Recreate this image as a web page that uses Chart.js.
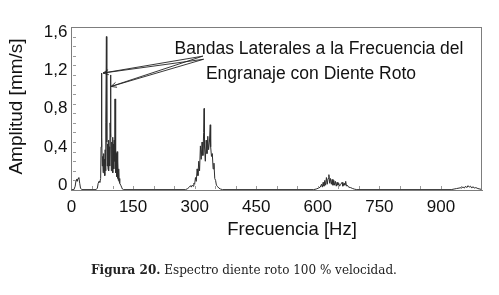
<!DOCTYPE html>
<html>
<head>
<meta charset="utf-8">
<script src="https://cdn.jsdelivr.net/npm/chart.js@4.4.1/dist/chart.umd.min.js"></script>
<style>
  html, body { margin: 0; padding: 0; background: #fff; }
  #wrap { position: relative; width: 499px; height: 295px; }
  #chart { position: absolute; left: 0; top: 0; }
  #caption {
    position: absolute; left: 0; top: 263px; width: 488px;
    text-align: center; font: 12px "DejaVu Serif", serif; color: #222;
  }
</style>
</head>
<body>
<div id="wrap">
  <canvas id="chart" width="499" height="295"></canvas>
  <div id="caption"><b>Figura 20.</b> Espectro diente roto 100 % velocidad.</div>
</div>
<script>
// frecuencia [Hz] y amplitud [mm/s]
const freqHz = [
  0, 6, 9, 11, 13, 14, 16, 18, 20, 22, 25,
  60, 63, 65, 67, 69, 71, 72, 73, 74, 75, 76, 77, 78, 79, 80, 81, 82, 83, 84, 85,
  86, 87, 88, 89, 90, 91, 92, 93, 94, 95, 96, 97, 98, 99, 100, 101, 102, 103, 104,
  105, 106, 107, 108, 109, 110, 111, 112, 113, 114, 115, 116, 117, 118, 120, 122, 124, 127,
  278, 283, 287, 290, 292, 294, 296, 298, 300, 302, 304, 306, 308, 310, 312, 314, 316,
  318, 320, 322, 323, 324, 326, 328, 330, 332, 334, 336, 338, 339, 341, 343, 345, 347,
  349, 351, 353, 356, 359, 363, 368,
  590, 596, 602, 606, 609, 611, 613, 615, 617, 619, 621, 623, 625, 627, 629, 631, 633,
  635, 637, 639, 641, 643, 645, 647, 649, 651, 653, 656, 659, 661, 664, 666, 668, 670,
  672, 675, 680, 685, 690, 695,
  925, 932, 938, 944, 950, 954, 957, 960, 963, 966, 969, 972, 975, 978, 981, 985, 990, 995, 1000
];
const amplitud = [
  0.004, 0.004, 0.04, 0.1, 0.115, 0.09, 0.12, 0.13, 0.07, 0.02, 0.004,
  0.004, 0.02, 0.07, 0.09, 0.08, 0.12, 0.45, 1.22, 0.55, 0.25, 0.35, 0.18, 0.38, 0.2, 0.32, 0.15, 0.42, 0.2, 0.7, 1.6,
  0.5, 0.25, 0.48, 0.22, 0.52, 0.2, 0.45, 0.25, 0.7, 1.2, 0.55, 0.2, 0.5, 0.25, 0.55, 0.18, 0.48, 0.22, 0.52,
  0.3, 0.95, 0.45, 0.18, 0.38, 0.14, 0.4, 0.12, 0.3, 0.1, 0.22, 0.09, 0.12, 0.07, 0.05, 0.03, 0.01, 0.004,
  0.004, 0.015, 0.03, 0.045, 0.03, 0.05, 0.04, 0.07, 0.06, 0.13, 0.09, 0.22, 0.15, 0.3, 0.2, 0.46, 0.32,
  0.5, 0.36, 0.6, 0.85, 0.45, 0.3, 0.52, 0.38, 0.56, 0.42, 0.5, 0.68, 0.45, 0.35, 0.38, 0.22, 0.28,
  0.12, 0.1, 0.05, 0.035, 0.02, 0.01, 0.004,
  0.004, 0.01, 0.02, 0.03, 0.06, 0.03, 0.08, 0.04, 0.1, 0.05, 0.13, 0.06, 0.12, 0.16, 0.07, 0.12, 0.06,
  0.11, 0.05, 0.1, 0.05, 0.09, 0.04, 0.08, 0.05, 0.07, 0.04, 0.06, 0.08, 0.04, 0.07, 0.05, 0.09, 0.04,
  0.05, 0.03, 0.025, 0.015, 0.008, 0.004,
  0.004, 0.01, 0.015, 0.02, 0.025, 0.03, 0.02, 0.04, 0.025, 0.045, 0.03, 0.04, 0.02, 0.035, 0.02, 0.025, 0.015, 0.01, 0.004
];
const xTicks = [0, 150, 300, 450, 600, 750, 900];
const yTicks = [0, 0.4, 0.8, 1.2, 1.6];

// flechas de la anotacion: punta en [Hz, mm/s]
const arrowTail = [321, 1.38];
const arrowTips = [[77, 1.22], [96.5, 1.08]];
const noteLines = ["Bandas Laterales a la Frecuencia del", "Engranaje con Diente Roto"];

const FONT = "'Liberation Sans', Arial, sans-serif";
const FRAME = "#7d7d7d";

const decorate = {
  id: "decorate",
  afterDraw(chart) {
    const { ctx, scales: { x, y } } = chart;
    const L = Math.round(x.left), R = Math.round(x.right);
    const T = Math.round(y.top), B = Math.round(y.bottom);
    ctx.save();
    // lados superior y derecho del marco
    ctx.fillStyle = FRAME;
    ctx.fillRect(L, T, R - L, 1);
    ctx.fillRect(R - 1, T, 1, B - T);
    // marcas menores
    ctx.fillStyle = "#9a9a9a";
    for (let v = 0.1; v <= 1.7; v += 0.1) {
      ctx.fillRect(L + 1, Math.round(y.getPixelForValue(v)), 3, 1);
    }
    for (let f = 50; f < 1000; f += 50) {
      ctx.fillRect(Math.round(x.getPixelForValue(f)), B - 4, 1, 3);
    }

    // titulos de ejes
    ctx.fillStyle = "#111";
    ctx.font = "18.5px " + FONT;
    ctx.textAlign = "center";
    ctx.textBaseline = "alphabetic";
    ctx.fillText("Frecuencia [Hz]", 292, 234.5);
    ctx.save();
    ctx.translate(22, 106.5);
    ctx.rotate(-Math.PI / 2);
    ctx.font = "19px " + FONT;
    ctx.fillText("Amplitud [mm/s]", 0, 0);
    ctx.restore();

    // anotacion
    ctx.font = "17.5px " + FONT;
    ctx.fillText(noteLines[0], 319, 54);
    ctx.fillText(noteLines[1], 311, 79);
    const tx = x.getPixelForValue(arrowTail[0]), ty = y.getPixelForValue(arrowTail[1]);
    ctx.strokeStyle = "#222";
    ctx.lineWidth = 0.9;
    arrowTips.forEach(([f, v]) => {
      const hx = x.getPixelForValue(f), hy = y.getPixelForValue(v);
      const ang = Math.atan2(hy - ty, hx - tx);
      const nx = -Math.sin(ang) * 1.6, ny = Math.cos(ang) * 1.6;
      ctx.beginPath();
      ctx.moveTo(tx + nx, ty + ny);
      ctx.lineTo(hx, hy);
      ctx.lineTo(tx - nx, ty - ny);
      ctx.stroke();
      ctx.beginPath();
      ctx.moveTo(hx + 6 * Math.cos(ang - 2.7), hy + 6 * Math.sin(ang - 2.7));
      ctx.lineTo(hx, hy);
      ctx.lineTo(hx + 6 * Math.cos(ang + 2.7), hy + 6 * Math.sin(ang + 2.7));
      ctx.stroke();
    });
    ctx.restore();
  }
};

new Chart(document.getElementById("chart"), {
  type: "line",
  data: {
    datasets: [{
      data: freqHz.map((f, i) => ({ x: f, y: amplitud[i] })),
      borderColor: "#2e2e2e",
      borderWidth: 1,
      pointRadius: 0,
      tension: 0,
      fill: false
    }]
  },
  options: {
    responsive: false,
    animation: false,
    layout: { padding: { left: 0, top: 27, right: 17, bottom: 0 } },
    plugins: { legend: { display: false }, tooltip: { enabled: false } },
    scales: {
      x: {
        type: "linear",
        min: 0,
        max: 1000,
        afterFit: s => { s.height = 105; },
        afterBuildTicks: s => { s.ticks = xTicks.map(v => ({ value: v })); },
        grid: { display: false, drawTicks: false },
        border: { display: true, color: FRAME, width: 1 },
        ticks: { color: "#111", font: { family: FONT, size: 17 }, padding: 7, maxRotation: 0 }
      },
      y: {
        min: 0,
        max: 1.7,
        afterFit: s => { s.width = 71.5; },
        afterBuildTicks: s => { s.ticks = yTicks.map(v => ({ value: v })); },
        grid: { display: false, drawTicks: false },
        border: { display: true, color: FRAME, width: 1 },
        ticks: {
          color: "#111", font: { family: FONT, size: 17 }, padding: 4, labelOffset: -4.5,
          callback: v => v === 0 ? "0" : v.toFixed(1).replace(".", ",")
        }
      }
    }
  },
  plugins: [decorate]
});
</script>
</body>
</html>
